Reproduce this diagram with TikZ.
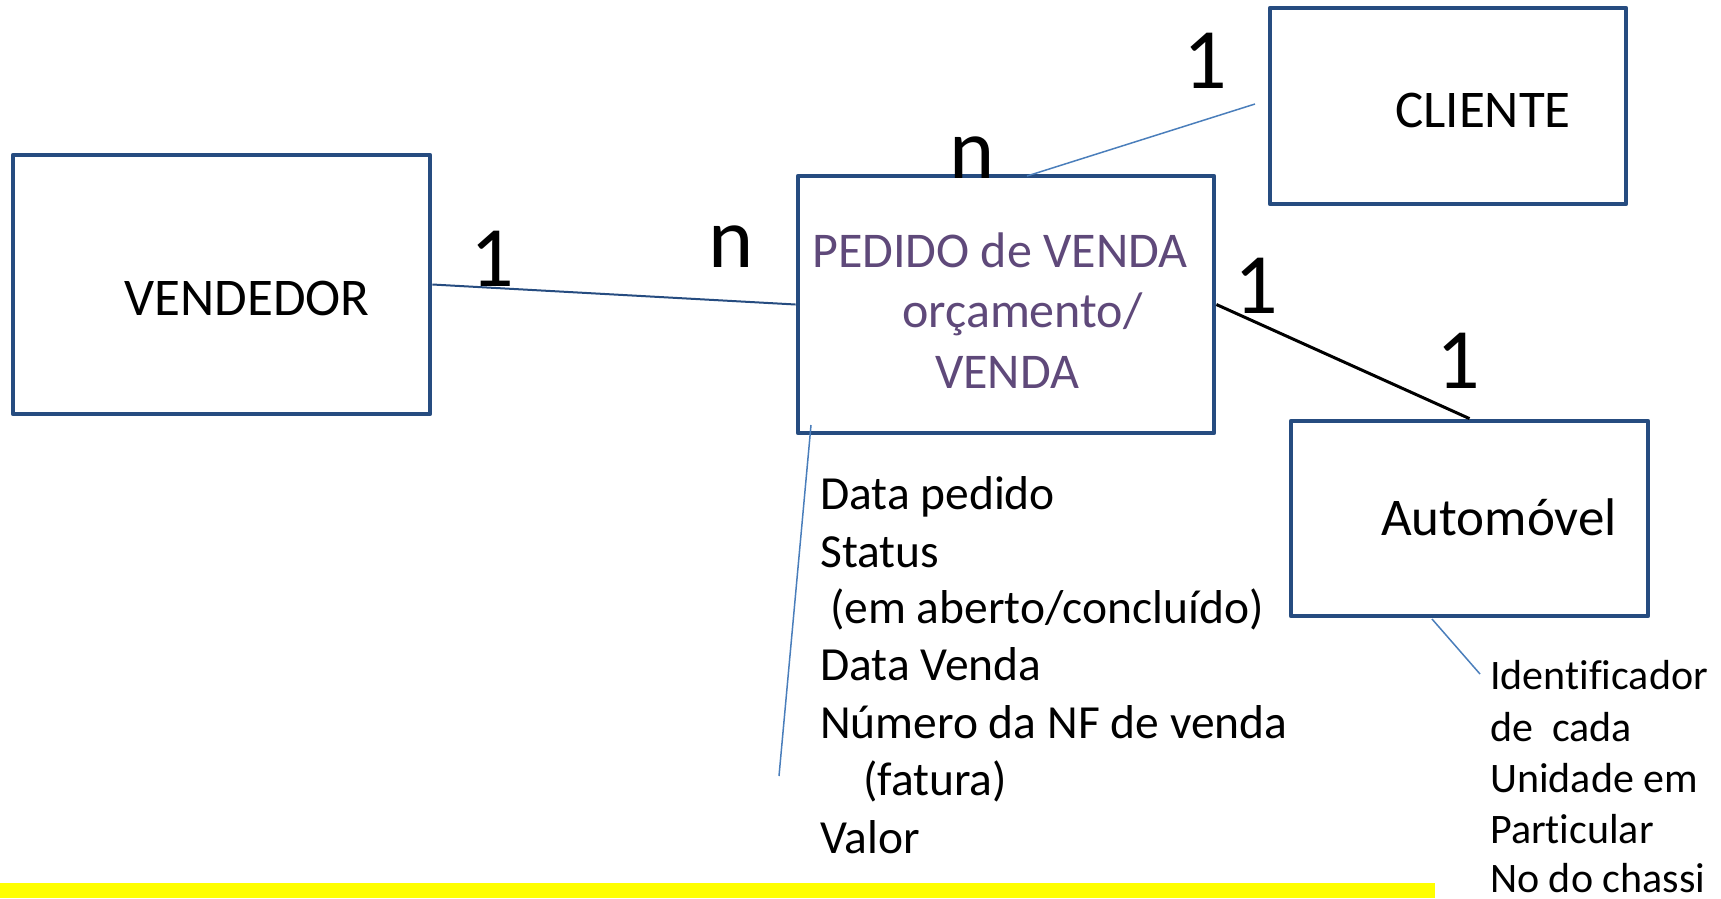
\documentclass[tikz,border=0pt]{standalone}
\usepackage{fontspec}
\setmainfont{Carlito}[Ligatures=NoCommon]
\definecolor{boxblue}{RGB}{38,76,128}
\definecolor{thinblue}{RGB}{74,126,187}
\definecolor{txtpurple}{RGB}{95,73,122}
\definecolor{barYellow}{RGB}{255,255,0}
\begin{document}
\begin{tikzpicture}[x=1pt,y=-1pt,
  entbox/.style={draw=boxblue,line width=4.8pt,line join=round,fill=white,inner sep=0pt},
  entlbl/.style={inner sep=0pt,anchor=base,font=\fontsize{53}{62}\selectfont},
  pedlbl/.style={inner sep=0pt,anchor=base west,text=txtpurple,font=\fontsize{50}{60}\selectfont},
  card/.style={inner sep=0pt,anchor=base,font=\fontsize{86}{100}\selectfont},
  attrl/.style={inner sep=0pt,anchor=base west,font=\fontsize{47.5}{57}\selectfont},
  attrr/.style={inner sep=0pt,anchor=base west,font=\fontsize{42}{51}\selectfont},
  relblue/.style={draw=boxblue,line width=2pt},
  relblack/.style={draw=black,line width=3pt},
  attrline/.style={draw=thinblue,line width=1.5pt}]
\useasboundingbox (0,0) rectangle (1721,898);
\fill[barYellow] (0,883) rectangle (1435,898);
% boxes
\node[entbox,minimum width=417pt,minimum height=259pt] (vend) at (221.5,284.5) {};
\node[entbox,minimum width=416pt,minimum height=257pt] (ped) at (1006,304.5) {};
\node[entbox,minimum width=356pt,minimum height=196pt] (cli) at (1448,106) {};
\node[entbox,minimum width=357pt,minimum height=195pt] (auto) at (1469.5,518.5) {};
% labels
\node[entlbl] (vendt) at (247,315) {VENDEDOR};
\node[entlbl] (clit) at (1483,127) {CLIENTE};
\node[entlbl] (autot) at (1499,535) {Automóvel};
\node[pedlbl] (ped1) at (812,267) {PEDIDO de VENDA};
\node[pedlbl] (ped2) at (902,327) {orçamento/};
\node[pedlbl] (ped3) at (935,388) {VENDA};
% connectors
\coordinate (pedtop) at (1027,176);
\coordinate (clifree) at (1255,104);
\draw[relblue] (vend.east) -- (ped.west);
\draw[attrline] (pedtop) -- (clifree);
\draw[relblack] (ped.east) -- (auto.north);
\coordinate (pattA) at (811,425);
\coordinate (pattB) at (779,776);
\draw[attrline] (pattA) -- (pattB);
\coordinate (aattA) at (1432,619);
\coordinate (aattB) at (1480,674);
\draw[attrline] (aattA) -- (aattB);
% cardinalities
\node[card] (c1) at (492,286) {1};
\node[card] (c2) at (731,267) {n};
\node[card] (c3) at (972,178) {n};
\node[card] (c4) at (1205,88) {1};
\node[card] (c5) at (1256,313) {1};
\node[card] (c6) at (1458,388) {1};
% attributes
\node[attrl] (a1) at (820,509) {Data pedido};
\node[attrl] (a2) at (820,567) {Status};
\node[attrl] (a3) at (830,623) {(em aberto/concluído)};
\node[attrl] (a4) at (820,680) {Data Venda};
\node[attrl] (a5) at (820,738) {Número da NF de venda};
\node[attrl] (a6) at (863,795) {(fatura)};
\node[attrl] (a7) at (820,853) {Valor};
\node[attrr] (b1) at (1490,689) {Identificador};
\node[attrr] (b2) at (1490,741) {de\ \ cada};
\node[attrr] (b3) at (1490,792) {Unidade em};
\node[attrr] (b4) at (1490,843) {Particular};
\node[attrr] (b5) at (1490,892) {No do chassi};
\end{tikzpicture}
\end{document}
